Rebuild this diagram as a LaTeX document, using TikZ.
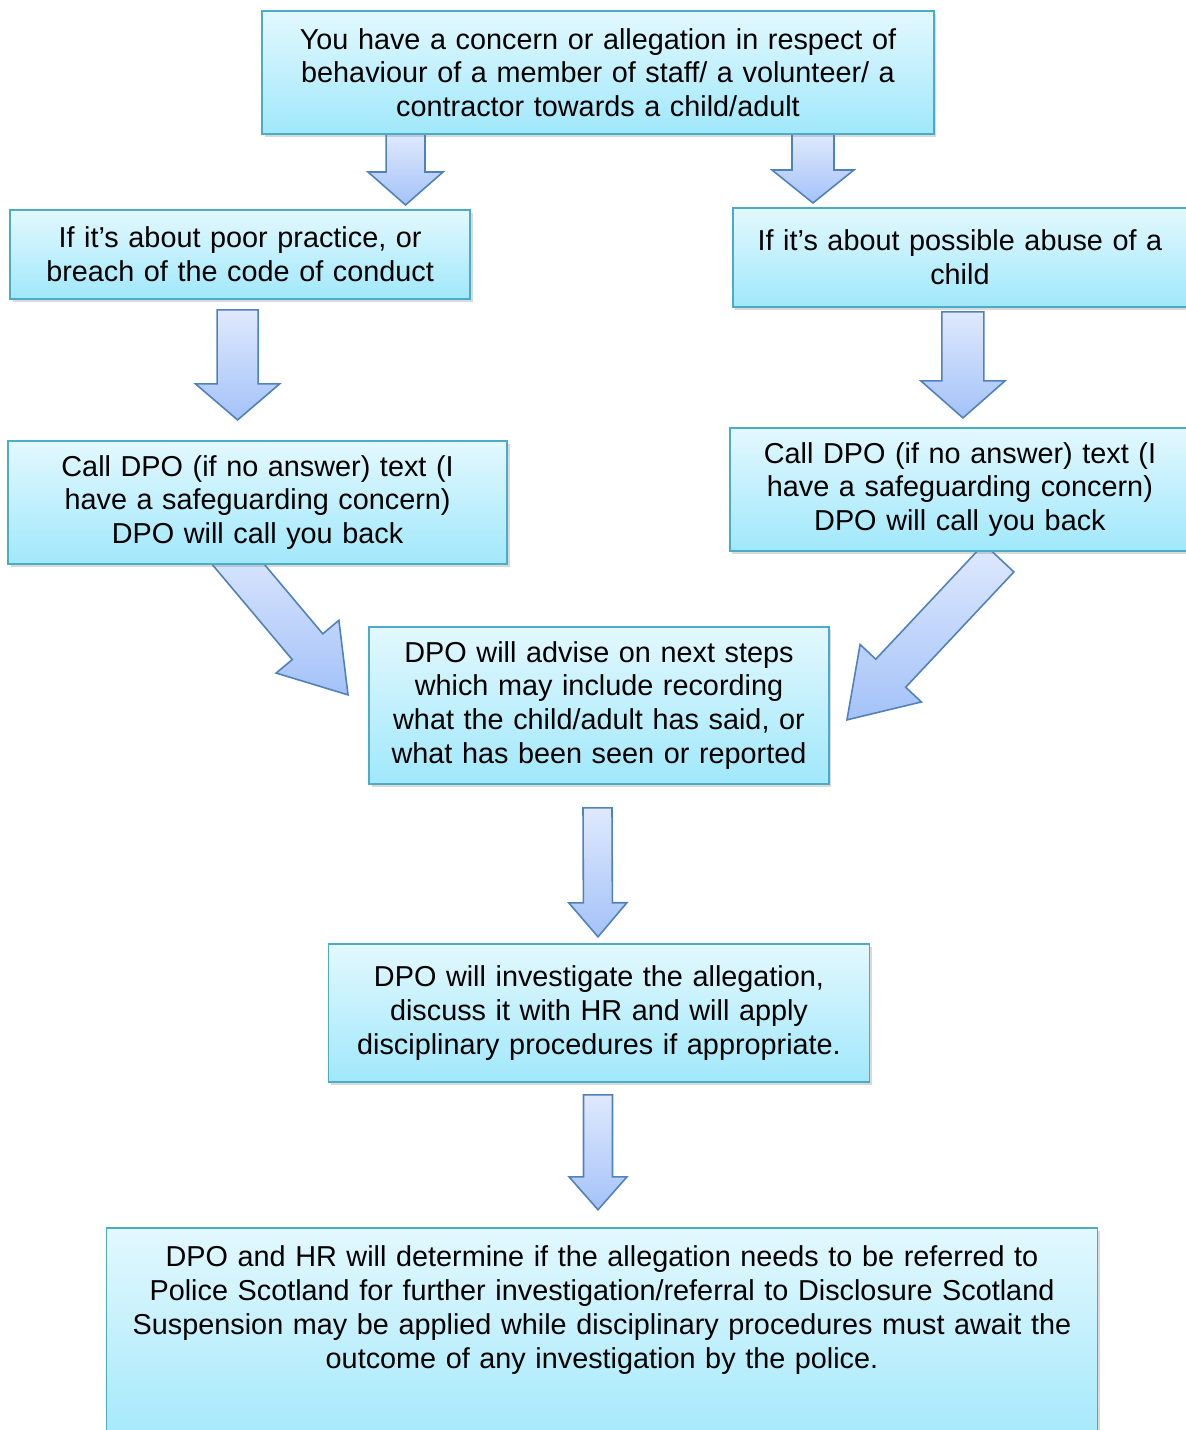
\documentclass[tikz,border=0pt]{standalone}
\usepackage{fontspec}
\setmainfont{Liberation Sans}
\usetikzlibrary{positioning,calc,shadows,backgrounds}
\definecolor{boxtop}{HTML}{E3F8FE}
\definecolor{boxbot}{HTML}{A0E8FB}
\definecolor{boxline}{HTML}{4BACC6}
\definecolor{arrtop}{HTML}{DFE9FD}
\definecolor{arrbot}{HTML}{A4C2F8}
\definecolor{arrline}{HTML}{4F81BD}
\tikzset{
  flowbox/.style={draw=boxline,line width=0.9pt,top color=boxtop,bottom color=boxbot,
    inner xsep=0pt,outer sep=0pt,align=center,font=\fontsize{16.4}{19.2}\selectfont,
    drop shadow={opacity=0.3,shadow xshift=0.05cm,shadow yshift=-0.06cm}},
  blockarrow/.style={draw=arrline,line width=0.9pt,top color=arrtop,bottom color=arrbot,line join=miter}
}
% tail, tip, shaft half width, head half width, head length
\newcommand\flowarrow[5]{%
  \coordinate (fa-h) at ($(#2)!#5!(#1)$);
  \shade[blockarrow] ($(#1)!#3!90:(#2)$) -- ($(fa-h)!#3!90:(#2)$) -- ($(fa-h)!#4!90:(#2)$)
    -- (#2) -- ($(fa-h)!#4!-90:(#2)$) -- ($(fa-h)!#3!-90:(#2)$) -- ($(#1)!#3!-90:(#2)$) -- cycle;
}

\begin{document}
\begin{tikzpicture}[x=0.02cm,y=-0.02cm]
\useasboundingbox (0,0) rectangle (1186,1430);

\node[flowbox,text width=13.44cm,minimum height=2.46cm] (top) at (598,72.5)
{You have a concern or allegation in respect of\\ behaviour of a member of staff/ a volunteer/ a\\ contractor towards a child/adult};
\node[flowbox,text width=9.2cm,minimum height=1.78cm,below=1.52cm of top,xshift=-7.16cm] (poor)
{If it’s about poor practice, or\\ breach of the code of conduct};
\node[flowbox,text width=9.08cm,minimum height=1.98cm,below=1.48cm of top,xshift=7.24cm] (abuse)
{If it’s about possible abuse of a\\ child};
\node[flowbox,text width=9.98cm,minimum height=2.46cm,below=2.84cm of poor,xshift=0.35cm] (callL)
{Call DPO (if no answer) text (I\\ have a safeguarding concern)\\ DPO will call you back};
\node[flowbox,text width=9.2cm,minimum height=2.46cm,below=2.42cm of abuse] (callR)
{Call DPO (if no answer) text (I\\ have a safeguarding concern)\\ DPO will call you back};
\node[flowbox,text width=9.2cm,minimum height=3.14cm,below=9.86cm of top,xshift=0.02cm] (advise)
{DPO will advise on next steps\\ which may include recording\\ what the child/adult has said, or\\ what has been seen or reported};
\node[flowbox,text width=10.82cm,minimum height=2.76cm,below=3.2cm of advise] (invest)
{DPO will investigate the allegation,\\ discuss it with HR and will apply\\ disciplinary procedures if appropriate.};
\node[flowbox,text width=19.82cm,minimum height=4.52cm,below=2.92cm of invest,xshift=0.06cm] (refer)
{DPO and HR will determine if the allegation needs to be referred to\\ Police Scotland for further investigation/referral to Disclosure Scotland\\ Suspension may be applied while disciplinary procedures must await the\\ outcome of any investigation by the police.\\ \mbox{}\\ \mbox{}};

\coordinate (a1s) at ($(top.south)+(-3.85cm,0)$);
\coordinate (a1e) at ($(poor.north)+(3.31cm,0.1cm)$);
\coordinate (a2s) at ($(top.south)+(4.3cm,0)$);
\coordinate (a2e) at ($(abuse.north)+(-2.94cm,0.1cm)$);
\coordinate (a3s) at ($(poor.south)+(-0.05cm,-0.22cm)$);
\coordinate (a3e) at ($(callL.north)+(-0.4cm,0.42cm)$);
\coordinate (a4s) at ($(abuse.south)+(0.06cm,-0.1cm)$);
\coordinate (a4e) at ($(callR.north)+(0.06cm,0.2cm)$);
\coordinate (a5s) at ($(callL.south)+(-0.63cm,0.28cm)$);
\coordinate (a5e) at ($(advise.west)+(-0.42cm,0.21cm)$);
\coordinate (a6s) at ($(callR.south)+(0.78cm,-0.14cm)$);
\coordinate (a6e) at ($(advise.east)+(0.36cm,-0.29cm)$);
\coordinate (a7s) at ($(advise.south)+(-0.03cm,-0.48cm)$);
\coordinate (a7e) at ($(invest.north)+(-0.02cm,0.14cm)$);
\coordinate (a8s) at ($(invest.south)+(-0.02cm,-0.26cm)$);
\coordinate (a8e) at ($(refer.north)+(-0.08cm,0.36cm)$);

\begin{scope}[on background layer]
\flowarrow{a1s}{a1e}{0.39cm}{0.75cm}{0.66cm}
\flowarrow{a2s}{a2e}{0.42cm}{0.82cm}{0.66cm}
\flowarrow{a3s}{a3e}{0.41cm}{0.84cm}{0.72cm}
\flowarrow{a4s}{a4e}{0.42cm}{0.84cm}{0.74cm}
\flowarrow{a5s}{a5e}{0.4cm}{0.82cm}{1.26cm}
\flowarrow{a6s}{a6e}{0.41cm}{0.84cm}{1.28cm}
\flowarrow{a7s}{a7e}{0.29cm}{0.58cm}{0.68cm}
\flowarrow{a8s}{a8e}{0.29cm}{0.58cm}{0.66cm}
\end{scope}
\end{tikzpicture}
\end{document}
